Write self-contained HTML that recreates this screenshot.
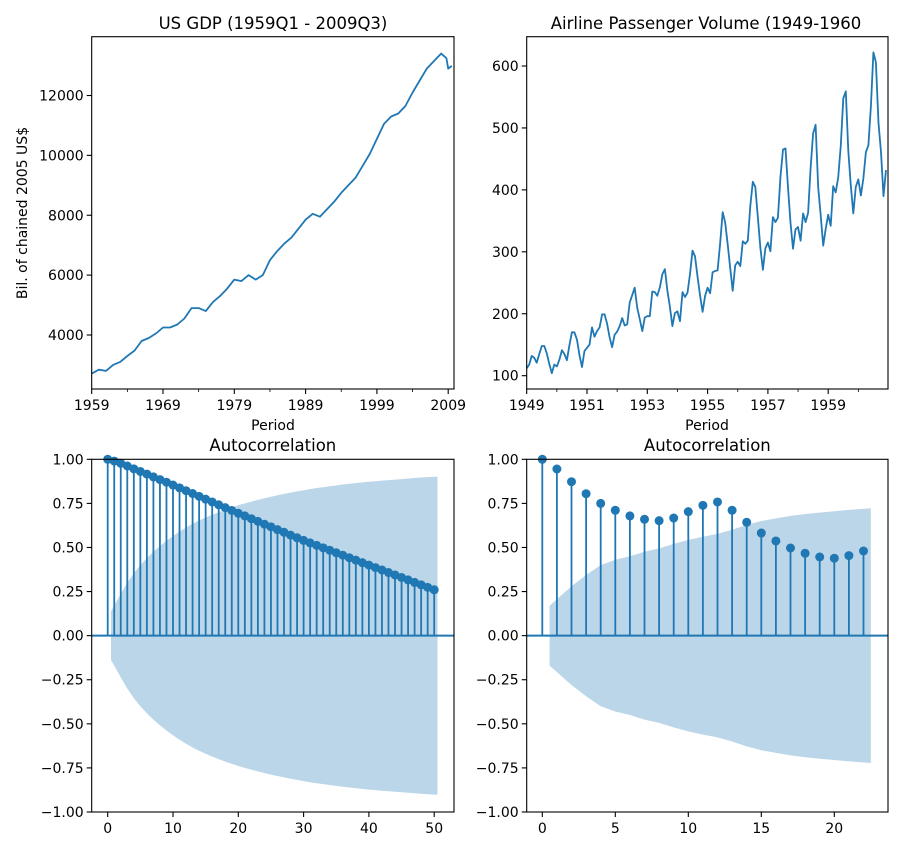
<!DOCTYPE html>
<html><head><meta charset="utf-8"><style>
html,body{margin:0;padding:0;background:#fff}
svg text{font-family:"DejaVu Sans","Liberation Sans",sans-serif;fill:#000}
</style></head><body>
<svg id="fig" xmlns="http://www.w3.org/2000/svg" width="905" height="845" viewBox="0 0 905 845"></svg>
<script>
// ---- data ----
const gdpYears = [1959,1960,1961,1962,1963,1964,1965,1966,1967,1968,1969,1970,1971,1972,1973,1974,1975,1976,1977,1978,1979,1980,1981,1982,1983,1984,1985,1986,1987,1988,1989,1990,1991,1992,1993,1994,1995,1996,1997,1998,1999,2000,2001,2002,2003,2004,2005,2006,2007,2008,2008.75,2009,2009.5];
const gdpValues = [2710,2840,2800,3000,3100,3300,3480,3800,3900,4050,4250,4250,4350,4550,4900,4900,4800,5100,5300,5550,5850,5800,6000,5850,6000,6500,6800,7050,7250,7550,7850,8050,7950,8200,8450,8750,9000,9250,9650,10050,10550,11050,11300,11400,11650,12100,12500,12900,13150,13400,13250,12900,12990];
const gdpXTicks = [1959,1969,1979,1989,1999,2009];
const gdpYTicks = [4000,6000,8000,10000,12000];
const airValues = [112,118,132,129,121,135,148,148,136,119,104,118,115,126,141,135,125,149,170,170,158,133,114,140,145,150,178,163,172,178,199,199,184,162,146,166,171,180,193,181,183,218,230,242,209,191,172,194,196,196,236,235,229,243,264,272,237,211,180,201,204,188,235,227,234,264,302,293,259,229,203,229,242,233,267,269,270,315,364,347,312,274,237,278,284,277,317,313,318,374,413,405,355,306,271,306,315,301,356,348,355,422,465,467,404,347,305,336,340,318,362,348,363,435,491,505,404,359,310,337,360,342,406,396,420,472,548,559,463,407,362,405,417,391,419,461,472,535,622,606,508,461,390,432];
const airXTicks = [1949,1951,1953,1955,1957,1959];
const airYTicks = [100,200,300,400,500,600];
const acfGdp = [1.00,.99,.977,.962,.946,.931,.916,.900,.885,.870,.854,.838,.822,.806,.790,.774,.758,.742,.726,.710,.694,.679,.663,.648,.632,.617,.601,.586,.570,.555,.540,.526,.512,.498,.484,.470,.456,.442,.428,.414,.400,.386,.372,.358,.344,.330,.316,.302,.288,.274,.260];
const confGdp = [0,.138,.237,.30,.354,.40,.44,.476,.508,.538,.565,.59,.613,.634,.653,.67,.686,.70,.714,.727,.739,.75,.76,.77,.779,.788,.796,.804,.811,.818,.825,.831,.837,.842,.847,.852,.857,.861,.865,.869,.873,.876,.879,.882,.885,.888,.891,.894,.897,.899,.902];
const acfAir = [1.00,.945,.873,.805,.75,.711,.679,.66,.652,.667,.703,.739,.758,.711,.643,.582,.537,.497,.467,.446,.439,.454,.48];
const confAir = [0,.17,.28,.344,.40,.43,.45,.476,.495,.52,.543,.561,.577,.60,.628,.65,.665,.679,.69,.698,.705,.713,.722];
const acfYTicks = [-1.00,-0.75,-0.50,-0.25,0.00,0.25,0.50,0.75,1.00];
const acfXTicksL = [0,10,20,30,40,50];
const acfXTicksR = [0,5,10,15,20];

const NS="http://www.w3.org/2000/svg";
const svg=document.getElementById('fig');
const BLUE="#1f77b4";
function el(tag,attrs,parent){const e=document.createElementNS(NS,tag);for(const k in attrs)e.setAttribute(k,attrs[k]);(parent||svg).appendChild(e);return e;}
function txt(s,x,y,anchor,size,parent,extra){const t=el('text',Object.assign({x:x,y:y,'text-anchor':anchor,'font-size':size},extra||{}),parent);t.textContent=s;return t;}
function lin(d0,d1,p0,p1){return v=>p0+(v-d0)*(p1-p0)/(d1-d0);}

function axesFrame(g,L,T,R,B){
  const r=el('rect',{x:L,y:T,width:R-L,height:B-T,fill:'none',stroke:'#000','stroke-width':1.1},g);
  
  
}
function yTicks(g,ticks,sy,L,fmt){
  ticks.forEach(v=>{const y=sy(v);
    el('line',{x1:L-5,x2:L,y1:y,y2:y,stroke:'#000','stroke-width':1.1},g);
    const t=txt(fmt(v),L-8,y+5,'end',14,g);
    
    
  });
}
function xTicks(g,ticks,sx,B,fmt){
  ticks.forEach(v=>{const x=sx(v);
    el('line',{x1:x,x2:x,y1:B,y2:B+5,stroke:'#000','stroke-width':1.1},g);
    const t=txt(fmt(v),x,B+21,'middle',14,g);
    
    
  });
}

// ---- GDP ----
(function(){
  const g=el('g',{});
  
  
  const L=91.7,R=454,T=36.7,B=389;
  const sx=lin(1959,1969,91.7,163);
  const sy=lin(4000,12000,335,95.5);
  const pts=gdpYears.map((y,i)=>sx(y).toFixed(1)+','+sy(gdpValues[i]).toFixed(1)).join(' ');
  const p=el('polyline',{points:pts,fill:'none',stroke:BLUE,'stroke-width':1.8,'stroke-linejoin':'round'},g);
  
  
  axesFrame(g,L,T,R,B);
  yTicks(g,gdpYTicks,sy,L,v=>String(v));
  xTicks(g,gdpXTicks,sx,B,v=>String(v));
  [1964,1974,1984,1994,2004].forEach(v=>el('line',{x1:sx(v),x2:sx(v),y1:B,y2:B+3,stroke:'#000','stroke-width':0.8},g));
  const t=txt('US GDP (1959Q1 - 2009Q3)',273,29,'middle',16.5,g);
  
  const xl=txt('Period',273,430,'middle',14,g);
  
  const yl=txt('Bil. of chained 2005 US$',0,0,'middle',14,g,{transform:'translate(27,213) rotate(-90)'});
  
})();

// ---- Airline ----
(function(){
  const g=el('g',{});
  
  
  const L=526.7,R=888,T=36.7,B=389;
  const sx=lin(1949,1951,526.7,587);
  const sy=lin(100,600,375.7,66);
  const pts=airValues.map((v,i)=>sx(1949+i/12).toFixed(1)+','+sy(v).toFixed(1)).join(' ');
  const p=el('polyline',{points:pts,fill:'none',stroke:BLUE,'stroke-width':1.8,'stroke-linejoin':'round'},g);
  
  
  axesFrame(g,L,T,R,B);
  yTicks(g,airYTicks,sy,L,v=>String(v));
  xTicks(g,airXTicks,sx,B,v=>String(v));
  [1950,1952,1954,1956,1958,1960].forEach(v=>el('line',{x1:sx(v),x2:sx(v),y1:B,y2:B+3,stroke:'#000','stroke-width':0.8},g));
  const t=txt('Airline Passenger Volume (1949-1960',706,29,'middle',16.5,g);
  
  const xl=txt('Period',707,430,'middle',14,g);
  
})();

// ---- ACF ----
function acfPlot(name,acf,conf,xt,L,R,x0px,unit){
  const g=el('g',{});
  
  
  const T=459.3,B=812;
  const sx=v=>x0px+v*unit;
  const sy=lin(-1,1,B,T);
  const n=acf.length-1;
  const xs=[];for(let k=1;k<=n;k++)xs.push(k===1?0.5:(k===n?n+0.5:k));
  let up=[],lo=[];
  for(let k=1;k<=n;k++){const x=sx(xs[k-1]);up.push(x.toFixed(1)+','+sy(conf[k]).toFixed(1));lo.push(x.toFixed(1)+','+sy(-conf[k]).toFixed(1));}
  const band=el('polygon',{points:up.concat(lo.reverse()).join(' '),fill:BLUE,'fill-opacity':0.3,stroke:'none'},g);
  
  
  const z=el('line',{x1:L,x2:R,y1:sy(0),y2:sy(0),stroke:BLUE,'stroke-width':2},g);
  
  
  acf.forEach((v,k)=>{
    const s=el('line',{x1:sx(k),x2:sx(k),y1:sy(0),y2:sy(v),stroke:BLUE,'stroke-width':1.8},g);
    
    
    const c=el('circle',{cx:sx(k),cy:sy(v),r:4.5,fill:BLUE},g);
    
    
  });
  axesFrame(g,L,T,R,B);
  yTicks(g,acfYTicks,sy,L,v=>(v<0?'\u2212':'')+Math.abs(v).toFixed(2));
  xTicks(g,xt,sx,B,v=>String(v));
  const t=txt('Autocorrelation',(L+R)/2,451,'middle',16.5,g);
  
}
acfPlot('gdp-acf-chart',acfGdp,confGdp,acfXTicksL,91.7,454,107.7,6.53);
acfPlot('airline-acf-chart',acfAir,confAir,acfXTicksR,526.7,888,542.3,14.6);
</script>
</body></html>
